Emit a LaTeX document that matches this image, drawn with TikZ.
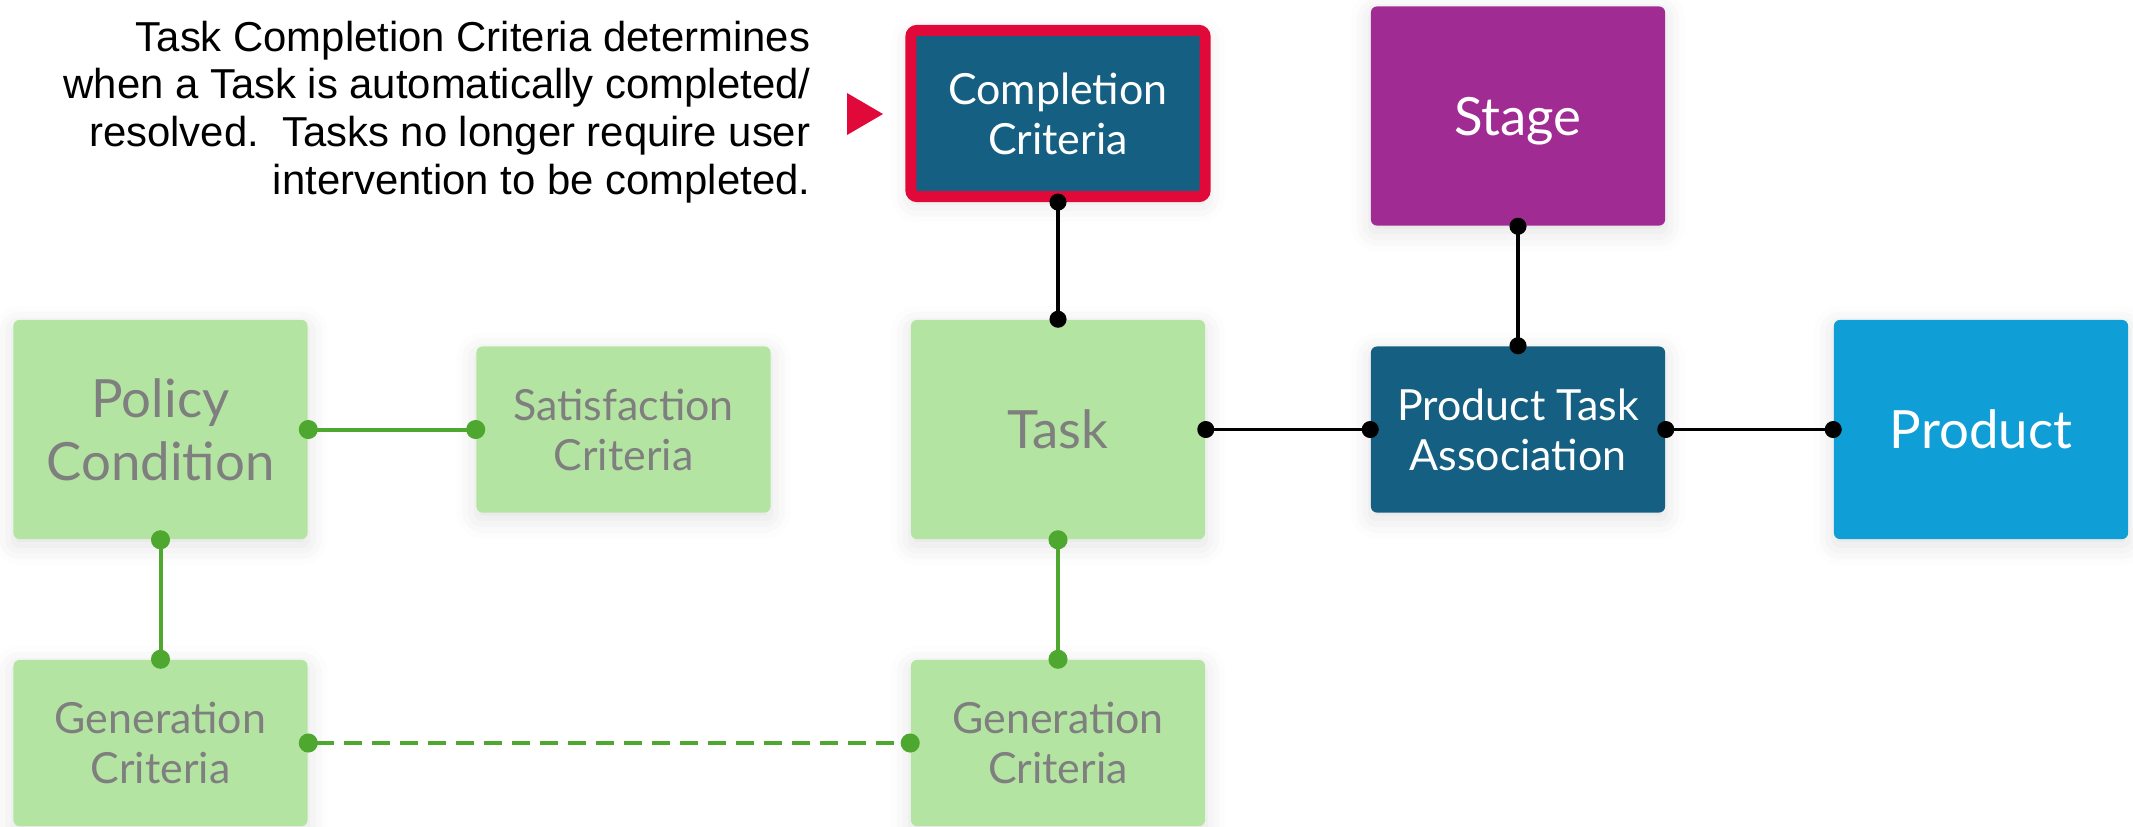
\documentclass[tikz,border=0pt]{standalone}
\usepackage{fontspec}
\setmainfont{Lato}
\newfontfamily\notefont{Liberation Sans}
\newfontfamily\boxfont{Lato}
\usetikzlibrary{arrows.meta}
\usetikzlibrary{shadows.blur}

\definecolor{boxgreen}{HTML}{B4E4A2}
\definecolor{linegreen}{HTML}{4EA72E}
\definecolor{boxgrey}{HTML}{7F7F7F}
\definecolor{darkteal}{HTML}{156082}
\definecolor{skyblue}{HTML}{0F9ED5}
\definecolor{plum}{HTML}{A02B93}
\definecolor{alertred}{HTML}{E0093A}

\begin{document}
\begin{tikzpicture}[x=0.01cm,y=-0.01cm,
	box/.style={rounded corners=0.06cm,minimum width=2.94cm,align=center,inner sep=0pt,
		blur shadow={shadow xshift=0cm,shadow yshift=-0.06cm,shadow blur radius=0.2cm,shadow opacity=12}},
	bigbox/.style={box,minimum height=2.19cm,font=\boxfont\fontsize{15}{17.9}\selectfont},
	smallbox/.style={box,minimum height=1.66cm,font=\boxfont\fontsize{12.2}{14.2}\selectfont},
	pale/.style={fill=boxgreen,text=boxgrey},
	blacklink/.style={line width=0.035cm,{Circle[length=0.17cm]}-{Circle[length=0.17cm]},shorten <=-0.085cm,shorten >=-0.085cm},
	greenlink/.style={linegreen,line width=0.04cm,{Circle[length=0.19cm]}-{Circle[length=0.19cm]},shorten <=-0.095cm,shorten >=-0.095cm}]
		\useasboundingbox (0,0) rectangle (2133,826);

		\node[bigbox,pale] (policy) at (160.5,429.5) {Policy\\Condition};
		\node[smallbox,pale] (satis) at (623.5,429.5) {Satisfaction\\Criteria};
		\node[bigbox,pale] (task) at (1058,429.5) {Task};
		\node[smallbox,fill=darkteal,text=white] (pta) at (1518,429.5) {Product Task\\Association};
		\node[bigbox,fill=skyblue,text=white] (product) at (1981,429.5) {Product};
		\node[bigbox,fill=plum,text=white,text depth=0pt] (stage) at (1518,116) {Stage};
		\node[smallbox,fill=darkteal,text=white,draw=alertred,line width=0.11cm] (compl) at (1058,113.5) {Completion\\Criteria};
		\node[smallbox,pale] (genl) at (160.5,743) {Generation\\Criteria};
		\node[smallbox,pale] (genr) at (1058,743) {Generation\\Criteria};

		\node[anchor=north east,align=right,inner sep=0pt,font=\notefont\fontsize{11.9}{13.6}\selectfont] (note) at (811,20)
			{Task Completion Criteria determines\\when a Task is automatically completed/\\resolved.\ \ Tasks no longer require user\\intervention to be completed.};
		\fill[alertred] (847,93) -- (883,114) -- (847,135) -- cycle;

		\draw[blacklink] (compl.south) -- (task.north);
		\draw[blacklink] (stage.south) -- (pta.north);
		\draw[blacklink] (task.east) -- (pta.west);
		\draw[blacklink] (pta.east) -- (product.west);
		\draw[greenlink] (policy.east) -- (satis.west);
		\draw[greenlink] (policy.south) -- (genl.north);
		\draw[greenlink] (task.south) -- (genr.north);
		\draw[greenlink,dash pattern=on 0.18cm off 0.1cm] (genl.east) -- (genr.west);
	\end{tikzpicture}
\end{document}
